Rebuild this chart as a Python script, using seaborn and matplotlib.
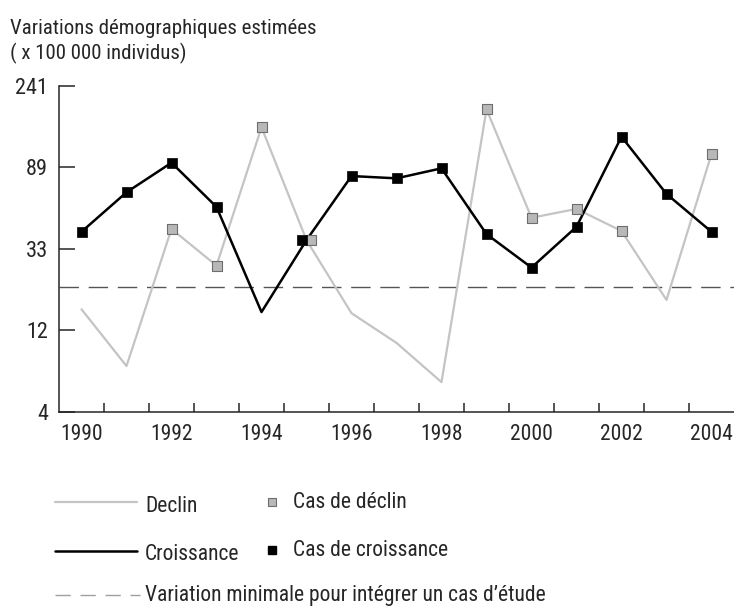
import numpy as np
import pandas as pd
import matplotlib
matplotlib.use("Agg")
import matplotlib.pyplot as plt
from matplotlib.lines import Line2D
import seaborn as sns

# data (log scale, x 100 000 individus)
years = list(range(1990, 2005))
declin = [14.5, 7.1, 39.8, 25.1, 142.9, 34.6, 13.8, 9.5, 5.8, 179.1, 45.8, 51.2, 38.8, 16.3, 102.1]
croissance = [38.4, 63.1, 91.5, 52.5, 14.0, 34.6, 77.4, 75.2, 85.3, 37.3, 24.5, 40.9, 126.9, 61.8, 38.4]
cas_declin = [0, 0, 1, 1, 1, 1, 0, 0, 0, 1, 1, 1, 1, 0, 1]
cas_croissance = [1, 1, 1, 1, 0, 1, 1, 1, 1, 1, 1, 1, 1, 1, 1]
seuil = 19.3
ytick_labels = ["4", "12", "33", "89", "241"]
year_labels = [str(y) for y in range(1990, 2005, 2)]

sns.set_style("ticks")
plt.rcParams['font.family'] = ['Roboto Condensed', 'DejaVu Sans']

df = pd.DataFrame({'annee': years, 'declin': declin, 'croissance': croissance,
                   'cas_declin': cas_declin, 'cas_croissance': cas_croissance})

# markers that fall on the same spot are nudged apart
same = (df['cas_declin'] == 1) & (df['cas_croissance'] == 1) & \
       (np.abs(np.log(df['declin'] / df['croissance'])) < 0.05)
df['x_declin'] = df['annee'] + np.where(same, 0.09, 0.0)
df['x_croissance'] = df['annee'] - np.where(same, 0.09, 0.0)

W, H = 734, 608
fig = plt.figure(figsize=(W / 100, H / 100), dpi=100)
ax = fig.add_axes([59 / W, (H - 411.7) / H, (734 - 59) / W, 326 / H])

grey_line = '#c4c4c4'
ax.axhline(seuil, color='#555555', lw=1.0, dashes=(14, 7), zorder=1)
sns.lineplot(data=df, x='annee', y='declin', ax=ax, color=grey_line, lw=1.6, zorder=2)
sns.lineplot(data=df, x='annee', y='croissance', ax=ax, color='black', lw=1.8, zorder=3)
sns.scatterplot(data=df[df['cas_declin'] == 1], x='x_declin', y='declin', ax=ax,
                marker='s', s=42, color='#b8b8b8', edgecolor='#6e6e6e', linewidth=0.8, zorder=4)
sns.scatterplot(data=df[df['cas_croissance'] == 1], x='x_croissance', y='croissance', ax=ax,
                marker='s', s=42, color='black', edgecolor='black', linewidth=0.5, zorder=5)

ax.set_yscale('log')
ax.set_ylim(4, 241)
ax.set_xlim(1989.5, 2004.5)
ax.minorticks_off()
yt = np.geomspace(4, 241, len(ytick_labels))
ax.set_yticks(yt)
ax.set_yticklabels(ytick_labels)
ax.set_xticks(range(1990, 2005, 2))
ax.set_xticklabels(year_labels)
ax.set_xticks(np.arange(1990.5, 2004, 1), minor=True)
ax.tick_params(axis='x', which='major', length=0, pad=9, labelsize=15.5)
ax.tick_params(axis='x', which='minor', direction='in', length=6.5, width=1.1)
ax.tick_params(axis='y', which='major', direction='in', length=11.5, width=1.1, pad=8, labelsize=16)
ax.set_xlabel('')
ax.set_ylabel('')
for side in ['top', 'right']:
    ax.spines[side].set_visible(False)
for side in ['left', 'bottom']:
    ax.spines[side].set_linewidth(1.1)
ax.patch.set_alpha(0)

fig.text(10 / W, 1 - 34 / H, "Variations démographiques estimées", fontsize=15, va='baseline')
fig.text(10 / W, 1 - 59 / H, "( x 100 000 individus)", fontsize=15, va='baseline')

# legend drawn in figure coordinates
def fy(py):
    return 1 - py / H

fs = 15.5
fig.add_artist(Line2D([55 / W, 137 / W], [fy(502)] * 2, color=grey_line, lw=1.6))
fig.text(145 / W, fy(507), "Declin", fontsize=fs, va='center')
fig.add_artist(Line2D([272 / W], [fy(502)], marker='s', ms=5.5, color='#b8b8b8',
                      mec='#6e6e6e', mew=0.8, ls='none'))
fig.text(293 / W, fy(502), "Cas de déclin", fontsize=fs, va='center')

fig.add_artist(Line2D([55 / W, 137 / W], [fy(551)] * 2, color='black', lw=1.8))
fig.text(145 / W, fy(555), "Croissance", fontsize=fs, va='center')
fig.add_artist(Line2D([272 / W], [fy(550)], marker='s', ms=5.5, color='black', ls='none'))
fig.text(293 / W, fy(550), "Cas de croissance", fontsize=fs, va='center')

fig.add_artist(Line2D([55 / W, 140 / W], [fy(595)] * 2, color='#a0a0a0', lw=1.0, dashes=(11, 7)))
fig.text(145 / W, fy(595), "Variation minimale pour intégrer un cas d’étude", fontsize=fs, va='center')

fig.savefig("out.png", dpi=100)
